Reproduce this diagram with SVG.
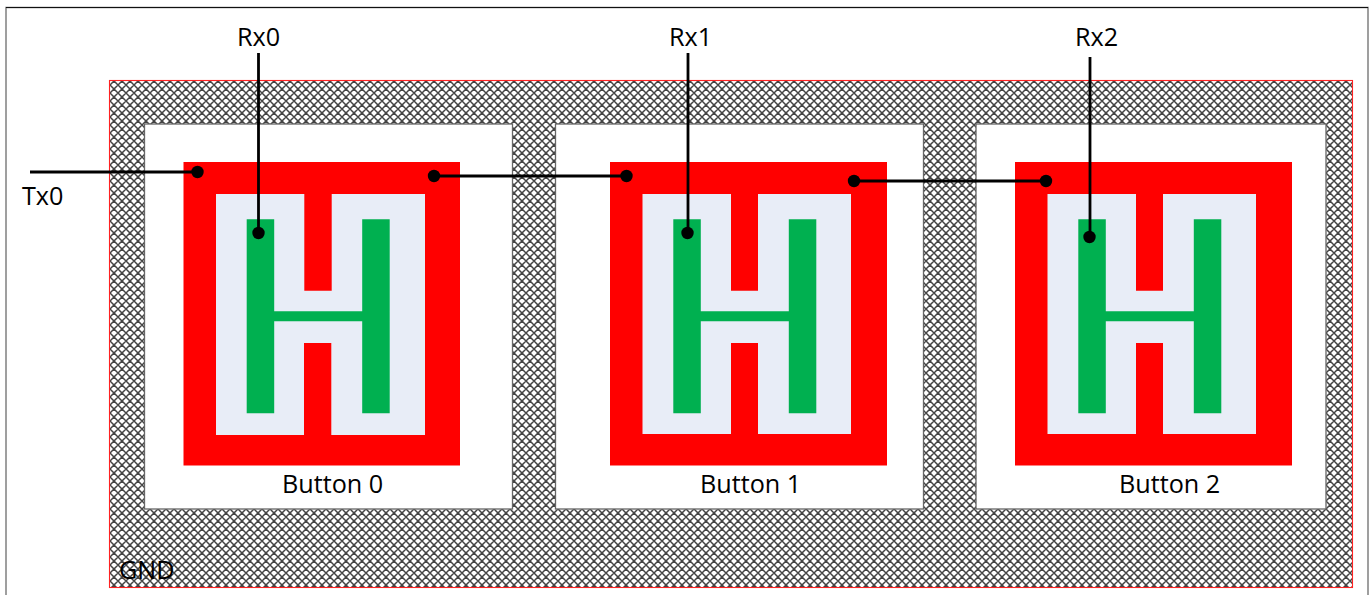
<svg xmlns="http://www.w3.org/2000/svg" width="1370" height="595" viewBox="0 0 1370 595">
<style>
text{font-family:"Open Sans","Noto Sans","Liberation Sans",sans-serif;font-size:25.2px;fill:#000}
.red{fill:#f00}.pale{fill:#e8edf7}.green{fill:#00b050}
.hole{fill:#fff;stroke:#666;stroke-width:1.3}
.wire{stroke:#000;stroke-width:2.8;fill:none}
.dot{fill:#000}
</style>
<defs>
<pattern id="hatch" x="110" y="81" width="8" height="8" patternUnits="userSpaceOnUse">
<rect width="8" height="8" fill="#fff"/>
<path d="M-1 5 L5 -1 M3 9 L9 3 M-1 3 L5 9 M3 -1 L9 5" stroke="#444" stroke-width="1.5" fill="none"/>
</pattern>
<g id="h"><path class="green" d="M0 0H27.500V92H115.500V0H143V194H115.500V102H27.500V194H0Z"/></g>
</defs>
<path d="M6 597V7.500H1368V597" fill="none" stroke="#777" stroke-width="1.400"/>
<path d="M6 7.500H1368" stroke="#111" stroke-width="1.200"/>
<g id="gnd"><rect x="109.500" y="80.500" width="1243" height="507" fill="url(#hatch)" stroke="#f22" stroke-width="1.100"/><text x="119" y="579">GND</text></g>
<g id="button0"><rect class="hole" x="144.500" y="124" width="368" height="385"/><path class="red" d="M183.500 162H460V465.500H183.500Z"/><path class="pale" d="M216 194H304.300V290.700H331.700V194H425V435H331.300V343H304V435H216Z"/><use href="#h" x="246.700" y="219.300"/><text x="282" y="492.500">Button 0</text></g>
<g id="button1"><rect class="hole" x="555.500" y="124" width="368" height="385"/><path class="red" d="M610 162H887V465.500H610Z"/><path class="pale" d="M642.500 194H731V290.700H758V194H851V434H758V343H731V434H642.500Z"/><use href="#h" x="673.300" y="219.300"/><text x="700" y="492.500">Button 1</text></g>
<g id="button2"><rect class="hole" x="976" y="124" width="350" height="385"/><path class="red" d="M1015 162H1292V465.500H1015Z"/><path class="pale" d="M1047.500 194H1136V290.700H1163V194H1256V434H1163V343H1136V434H1047.500Z"/><use href="#h" x="1078.300" y="219.300"/><text x="1119" y="492.500">Button 2</text></g>
<g id="connectors">
<path class="wire" d="M30 172H197M258.500 53V233M434 176H626M688 53V233M854 181H1046M1090 57V237"/>
<circle class="dot" cx="197.500" cy="172" r="6.200"/><circle class="dot" cx="258.500" cy="233" r="6.200"/>
<circle class="dot" cx="434" cy="176" r="6.200"/><circle class="dot" cx="626.500" cy="176" r="6.200"/><circle class="dot" cx="687.500" cy="233" r="6.200"/>
<circle class="dot" cx="854" cy="181" r="6.200"/><circle class="dot" cx="1046" cy="181" r="6.200"/><circle class="dot" cx="1089.500" cy="237" r="6.200"/>
</g>
<text x="237" y="45.500">Rx0</text><text x="669" y="45.500">Rx1</text><text x="1075" y="45.500">Rx2</text><text x="22" y="204.500">Tx0</text>
</svg>
